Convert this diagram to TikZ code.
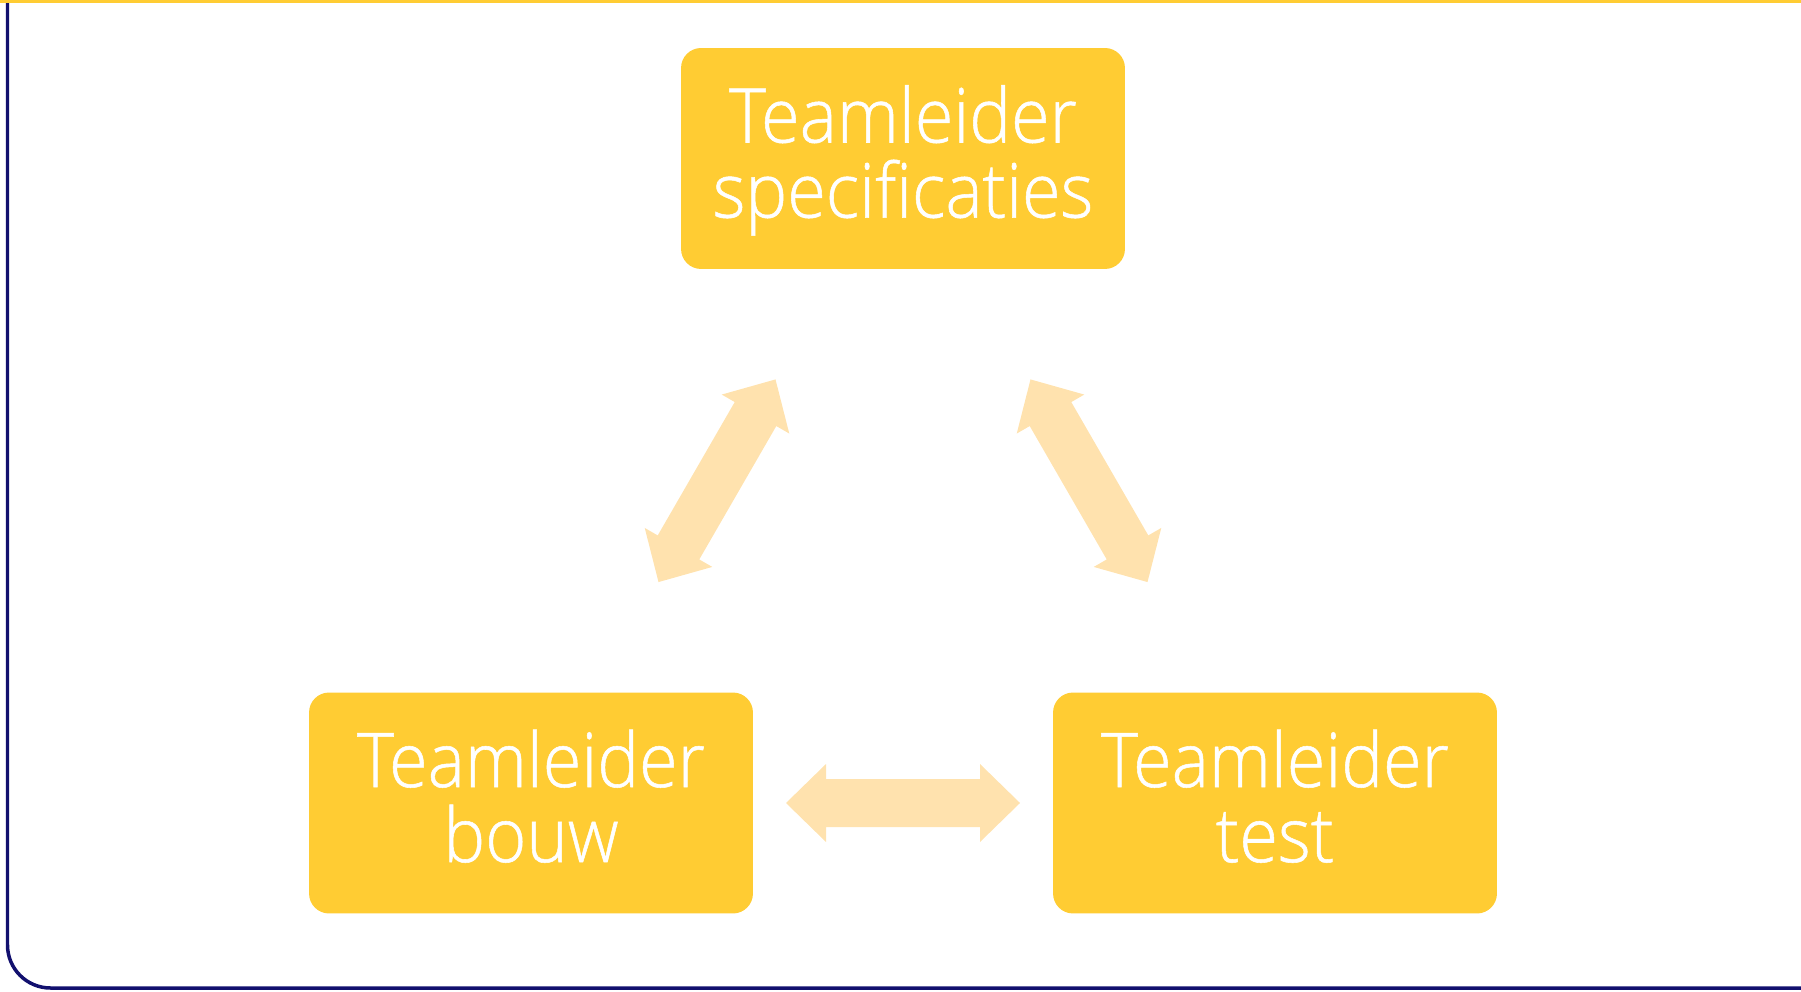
\documentclass[tikz,border=0pt]{standalone}
\usepackage{fontspec}
\IfFontExistsTF{Open Sans Light}
    {\setmainfont{Open Sans}[UprightFont=* Light, FakeStretch=0.93, FakeBold=0.7, Ligatures=NoCommon]}
    {\setmainfont{Fira Sans}[UprightFont=* Light, FakeStretch=0.93, Ligatures=NoCommon]}
\usepackage{xcolor}
\usepackage{tikz}
\usetikzlibrary{calc}

\definecolor{teamgeel}{RGB}{255,204,51}
\definecolor{pijlgeel}{RGB}{255,226,174}
\definecolor{kaderblauw}{RGB}{18,16,110}

\newcommand{\tweeregels}[2]{\rule{0pt}{0.82em}#1\\#2\rule[-0.25em]{0pt}{0.25em}}

\tikzset{
    teambox/.style={rectangle, rounded corners=0.4cm, fill=teamgeel, text=white,
        minimum width=8.88cm, minimum height=4.42cm, inner sep=0pt, align=center,
        font=\fontsize{43}{42.7}\selectfont},
    dblarrow/.pic={
        \fill[pijlgeel] (-117,0) -- (-77,39) -- (-77,24) -- (77,24) -- (77,39)
            -- (117,0) -- (77,-39) -- (77,-24) -- (-77,-24) -- (-77,-39) -- cycle;
    }
}

\begin{document}
\begin{tikzpicture}[x=0.02cm, y=0.02cm]
        \useasboundingbox (0,0) rectangle (1801,991);

        \draw[kaderblauw, line width=0.07cm, rounded corners=0.86cm] (7.5,989) -- (7.5,3) -- (1801,3);
        \draw[teamgeel, line width=0.056cm] (0,989.6) -- (1801,989.6);

        \node[teambox] (spec) at (903,832.5) {\tweeregels{Teamleider}{specificaties}};
        \node[teambox] (bouw) at (531,188) {\tweeregels{Teamleider}{bouw}};
        \node[teambox] (test) at (1275,188) {\tweeregels{Teamleider}{test}};

        \path ($(bouw)!0.5!(spec)$) pic[rotate=60] {dblarrow};
        \path ($(test)!0.5!(spec)$) pic[rotate=-60] {dblarrow};
        \path ($(bouw)!0.5!(test)$) pic {dblarrow}; % bouw <-> test
    \end{tikzpicture}
\end{document}
